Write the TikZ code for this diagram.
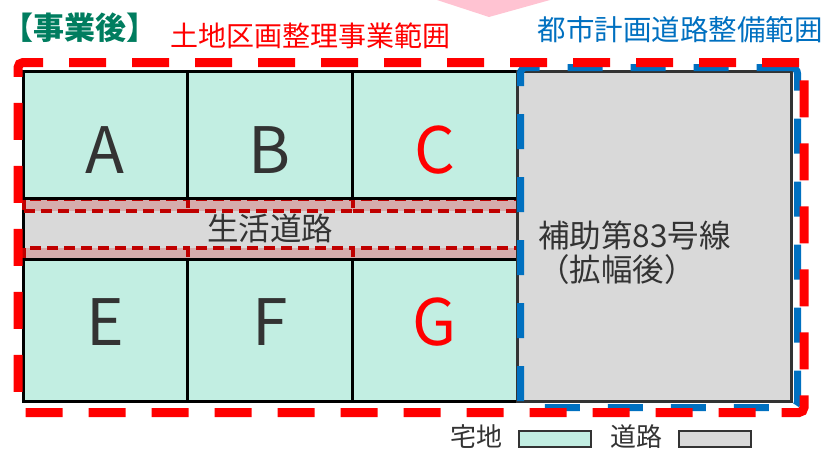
\documentclass[tikz,border=0pt]{standalone}
\usepackage{fontspec}
\setmainfont{Noto Sans CJK JP}
\definecolor{lotgreen}{RGB}{194,238,226}
\definecolor{roadgray}{RGB}{217,217,217}
\definecolor{strippink}{RGB}{214,172,172}
\definecolor{darkred}{RGB}{192,0,0}
\definecolor{zonered}{RGB}{255,0,0}
\definecolor{zoneblue}{RGB}{0,112,192}
\definecolor{titlegreen}{RGB}{0,125,95}
\definecolor{txtgray}{RGB}{51,51,51}
\definecolor{bordergray}{RGB}{51,51,51}
\definecolor{arrowpink}{RGB}{255,195,210}
\tikzset{
  cell/.style={draw=black, line width=2.5pt, fill=lotgreen, inner sep=0pt, anchor=north west},
  roadbox/.style={draw=black, line width=2.5pt, fill=roadgray, inner sep=0pt, anchor=north west},
  strip/.style={draw=darkred, dash pattern=on 11pt off 6pt, line width=3.6pt, fill=strippink, inner sep=0pt, anchor=north west, minimum height=12pt},
  letter/.style={font=\fontsize{64}{64}\selectfont, text=txtgray, inner sep=0pt},
  midtext/.style={font=\fontsize{31.5}{34}\selectfont, text=txtgray, inner sep=0pt},
  legtext/.style={font=\fontsize{26}{30}\selectfont, text=txtgray, inner sep=0pt},
  legbox/.style={draw=bordergray, line width=1.5pt, inner sep=0pt, minimum width=72pt, minimum height=16pt, anchor=north west},
  zone/.style={inner sep=0pt, anchor=north west},
}
\begin{document}
\begin{tikzpicture}[x=1pt,y=-1pt]
\useasboundingbox (0,0) rectangle (830,450);
% pink arrow tip
\fill[arrowpink] (437,0) -- (550,0) -- (489,17) -- cycle;
% titles
\node[inner sep=0pt, text=titlegreen, font=\fontsize{31}{34}\selectfont\bfseries] (title) at (80,28) {【事業後】};
\node[inner sep=0pt, text=zonered, font=\fontsize{28}{32}\selectfont] (redlabel) at (310,36) {土地区画整理事業範囲};
\node[inner sep=0pt, text=zoneblue, font=\fontsize{28.5}{32}\selectfont] (bluelabel) at (680,30) {都市計画道路整備範囲};
% living road
\node[roadbox, minimum width=494pt, minimum height=61pt] (road) at (22,197) {};
\node[strip, minimum width=164pt] (s1) at (22,197) {};
\node[strip, minimum width=165pt] (s2) at (186,197) {};
\node[strip, minimum width=165pt] (s3) at (351,197) {};
\node[strip, minimum width=164pt] (s4) at (22,246) {};
\node[strip, minimum width=165pt] (s5) at (186,246) {};
\node[strip, minimum width=165pt] (s6) at (351,246) {};
\node[midtext] (roadlabel) at (270,228) {生活道路};
% lots
\node[cell, minimum width=164pt, minimum height=127pt] (cA) at (22,70) {};
\node[cell, minimum width=165pt, minimum height=127pt] (cB) at (186,70) {};
\node[cell, minimum width=165pt, minimum height=127pt] (cC) at (351,70) {};
\node[cell, minimum width=164pt, minimum height=142pt] (cE) at (22,258) {};
\node[cell, minimum width=165pt, minimum height=142pt] (cF) at (186,258) {};
\node[cell, minimum width=165pt, minimum height=142pt] (cG) at (351,258) {};
\node[letter] (lA) at (105,150) {A};
\node[letter] (lB) at (270,150) {B};
\node[letter, text=zonered] (lC) at (435,150) {C};
\node[letter] (lE) at (105,322) {E};
\node[letter] (lF) at (270,322) {F};
\node[letter, text=zonered] (lG) at (435,322) {G};
% arterial road
\node[draw=bordergray, line width=3pt, fill=roadgray, inner sep=0pt, anchor=north west, minimum width=274pt, minimum height=330pt] (art) at (516,70) {};
\node[midtext, align=left, anchor=west] (artlabel) at (538,253) {補助第83号線\\（拡幅後）};
% zones
\node[zone, draw=zoneblue, line width=7pt, dash pattern=on 35pt off 28pt, rounded corners=6pt, minimum width=277pt, minimum height=340pt] (bluezone) at (517,64) {};
\node[zone, draw=zonered, line width=9pt, dash pattern=on 37pt off 26pt, rounded corners=5pt, minimum width=786pt, minimum height=350pt] (redzone) at (13.5,58) {};
% legend
\node[legtext] (lg1) at (476,437) {宅地};
\node[legbox, fill=lotgreen] (lgb1) at (518,430) {};
\node[legtext] (lg2) at (636,437) {道路};
\node[legbox, fill=roadgray] (lgb2) at (678,430) {};
\end{tikzpicture}
\end{document}
